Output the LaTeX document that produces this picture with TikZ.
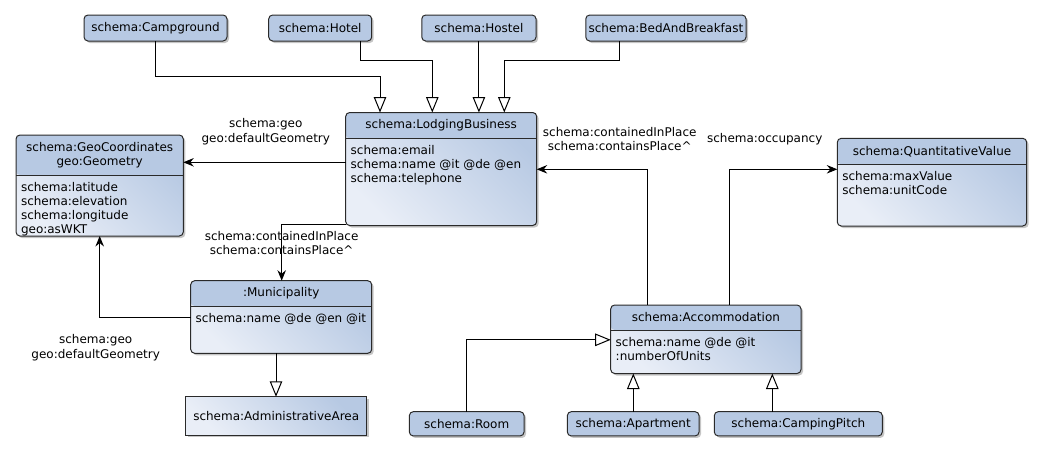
\documentclass[tikz,border=0pt]{standalone}
\usepackage{fontspec}
\setmainfont{DejaVu Sans}
\usetikzlibrary{arrows.meta,shadows,calc}
\definecolor{hdr}{HTML}{B7C9E3}
\definecolor{bodylt}{HTML}{E9EEF7}
\definecolor{boxline}{HTML}{2A2A2A}
\begin{document}
\begin{tikzpicture}[x=1pt,y=-1pt,font=\fontsize{12}{14.2}\selectfont,line width=1pt,
  hh/.store in=\hh, hh=26pt,
  shad/.style={drop shadow={shadow xshift=2pt,shadow yshift=-2pt,fill=black!45,opacity=0.5}},
  hbox/.style={draw=boxline,line width=1pt,rounded corners=4pt,outer sep=0pt,inner sep=0pt,fill=hdr,shad},
  cbox/.style={draw=boxline,line width=1pt,rounded corners=4pt,outer sep=0pt,inner sep=0pt,
    top color=hdr,bottom color=bodylt,shading angle=-45,shad,
    path picture={
      \fill[hdr] (path picture bounding box.north west) rectangle ([yshift=-\hh]path picture bounding box.north east);
      \draw[boxline,line width=1pt] ([yshift=-\hh]path picture bounding box.north west) -- ([yshift=-\hh]path picture bounding box.north east);
    }},
  abox/.style={draw=boxline,line width=1pt,outer sep=0pt,inner sep=0pt,
    top color=hdr,bottom color=bodylt,shading angle=-45,shad},
  hdrtxt/.style={inner sep=0pt,align=center},
  attr/.style={inner sep=0pt,anchor=north west,align=left},
  lbl/.style={inner sep=0pt,align=center},
  gen/.style={draw=black,line width=1pt,-{Triangle[length=15.5pt,width=12.5pt,fill=white]}},
  asc/.style={draw=black,line width=1pt,-{Stealth[length=10.5pt,width=8.5pt,inset=3.5pt]}}
]
\useasboundingbox (0,0) rectangle (1043,461);

% top subclasses
\node[hbox,minimum width=143pt,minimum height=26pt] (cg) at (155.5,28) {schema:Campground};
\node[hbox,minimum width=103pt,minimum height=26pt] (ht) at (320.2,28) {schema:Hotel};
\node[hbox,minimum width=114.3pt,minimum height=26pt] (hs) at (478.9,28) {schema:Hostel};
\node[hbox,minimum width=160.3pt,minimum height=26pt] (bb) at (665.9,28) {schema:BedAndBreakfast};

% LodgingBusiness
\node[cbox,hh=25.8pt,minimum width=191pt,minimum height=113pt] (lb) at (441.2,169) {};
\node[hdrtxt] (lbh) at (441.2,125.4) {schema:LodgingBusiness};
\node[attr] (lba) at (350.2,144.8) {schema:email\\schema:name @it @de @en\\schema:telephone};

% GeoCoordinates
\node[cbox,hh=40pt,minimum width=167.3pt,minimum height=101pt] (geo) at (99.65,185.5) {};
\node[hdrtxt] (geoh) at (99.65,154.8) {schema:GeoCoordinates\\geo:Geometry};
\node[attr] (geoa) at (20.5,181.5) {schema:latitude\\schema:elevation\\schema:longitude\\geo:asWKT};

% Municipality
\node[cbox,hh=25.3pt,minimum width=181pt,minimum height=72.6pt] (mun) at (281.2,317) {};
\node[hdrtxt] (munh) at (281.2,293.4) {:Municipality};
\node[attr] (muna) at (195.2,312.5) {schema:name @de @en @it};

% AdministrativeArea
\node[abox,minimum width=181pt,minimum height=38.3pt] (aa) at (276.2,415.9) {schema:AdministrativeArea};

% QuantitativeValue
\node[cbox,hh=26pt,minimum width=189.4pt,minimum height=87.7pt] (qv) at (932,182.15) {};
\node[hdrtxt] (qvh) at (932,151.3) {schema:QuantitativeValue};
\node[attr] (qva) at (841.8,170.8) {schema:maxValue\\schema:unitCode};

% Accommodation
\node[cbox,hh=25pt,minimum width=190.3pt,minimum height=68.5pt] (acc) at (705.85,339.25) {};
\node[hdrtxt] (acch) at (705.85,317.5) {schema:Accommodation};
\node[attr] (acca) at (615.2,336.5) {schema:name @de @it\\:numberOfUnits};

% bottom subclasses
\node[hbox,minimum width=114.7pt,minimum height=24.3pt] (room) at (466.7,423.8) {schema:Room};
\node[hbox,minimum width=131.7pt,minimum height=24.3pt] (apt) at (633.2,423.8) {schema:Apartment};
\node[hbox,minimum width=168pt,minimum height=24.3pt] (cp) at (798.3,423.8) {schema:CampingPitch};

% labels
\node[lbl] (l1) at (265.8,131.7) {schema:geo\\geo:defaultGeometry};
\node[lbl] (l2) at (281.6,242.7) {schema:containedInPlace\\schema:containsPlace\textasciicircum};
\node[lbl] (l3) at (95.7,347.6) {schema:geo\\geo:defaultGeometry};
\node[lbl] (l4) at (619.7,138.7) {schema:containedInPlace\\schema:containsPlace\textasciicircum};
\node[lbl] (l5) at (764.7,139) {schema:occupancy};

% connectors
\coordinate (c1) at (380,76);
\draw[gen] (cg.south) |- (c1) -- (c1 |- lb.north);
\coordinate (c2a) at (360.7,60.3);
\coordinate (c2b) at (432.3,60.3);
\draw[gen] (c2a |- ht.south) -- (c2a) -- (c2b) -- (c2b |- lb.north);
\draw[gen] (hs.south) -- (hs.south |- lb.north);
\coordinate (c4a) at (619.3,60.3);
\coordinate (c4b) at (504.3,60.3);
\draw[gen] (c4a |- bb.south) -- (c4a) -- (c4b) -- (c4b |- lb.north);

\coordinate (c5) at (0,162.3);
\draw[asc] (c5 -| lb.west) -- (c5 -| geo.east);
\coordinate (c6) at (281.7,224);
\draw[asc] (c6 -| lb.west) -- (c6) -- (c6 |- mun.north);
\coordinate (c7) at (99.7,317.3);
\draw[asc] (c7 -| mun.west) -- (c7) -- (c7 |- geo.south);
\coordinate (c8) at (276,0);
\draw[gen] (c8 |- mun.south) -- (c8 |- aa.north);

\coordinate (c9) at (647.3,169.3);
\draw[asc] (c9 |- acc.north) -- (c9) -- (c9 -| lb.east);
\coordinate (c10) at (729.3,169.3);
\draw[asc] (c10 |- acc.north) -- (c10) -- (c10 -| qv.west);
\coordinate (c11) at (466,339.8);
\draw[gen] (c11 |- room.north) -- (c11) -- (c11 -| acc.west);
\coordinate (c12) at (633.3,0);
\draw[gen] (c12 |- apt.north) -- (c12 |- acc.south);
\coordinate (c13) at (772.3,0);
\draw[gen] (c13 |- cp.north) -- (c13 |- acc.south);
\end{tikzpicture}
\end{document}
